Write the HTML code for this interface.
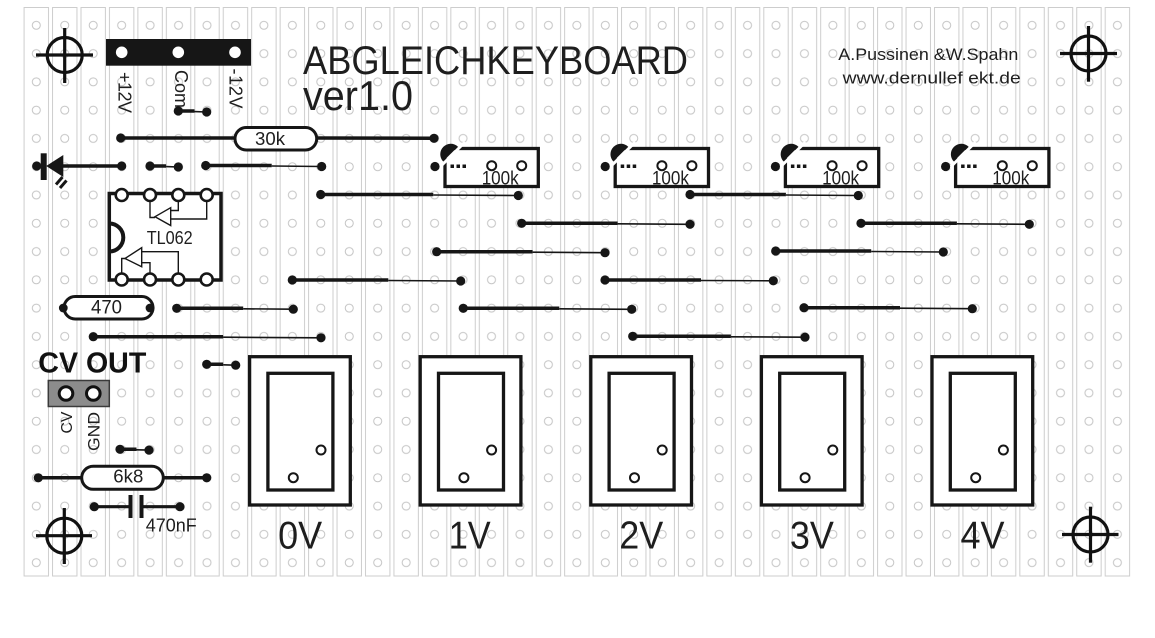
<!DOCTYPE html>
<html><head><meta charset="utf-8"><style>
html,body{margin:0;padding:0;background:#fff;}
svg{display:block;}
text{font-family:"Liberation Sans",sans-serif;fill:#1e1e1e;}
</style></head><body>
<svg width="1155" height="638" viewBox="0 0 1155 638" xmlns="http://www.w3.org/2000/svg">
<defs>
<pattern id="strip" x="22.075" y="0" width="28.45" height="638" patternUnits="userSpaceOnUse">
<rect x="2.025" y="7.5" width="24.4" height="568.5" fill="none" stroke="#cdcdcd" stroke-width="1"/>
</pattern>
<pattern id="hole" x="22.075" y="11.16" width="28.45" height="28.28" patternUnits="userSpaceOnUse">
<circle cx="14.225" cy="14.14" r="4" fill="none" stroke="#c4c4c4" stroke-width="1"/>
</pattern>
</defs>
<rect x="0" y="0" width="1155" height="638" fill="#fff"/>
<rect x="22.075" y="0" width="1109.55" height="600" fill="url(#strip)"/>
<rect x="22.075" y="11.16" width="1109.55" height="565.6" fill="url(#hole)"/>

<!-- crosshairs -->
<g fill="none" stroke="#111" stroke-width="3.2">
<circle cx="64.7" cy="55" r="17.5"/><line x1="36" y1="55" x2="93" y2="55"/><line x1="64.7" y1="28" x2="64.7" y2="83"/>
<circle cx="1088.5" cy="53.5" r="17.5"/><line x1="1060" y1="53.5" x2="1117" y2="53.5"/><line x1="1088.5" y1="26" x2="1088.5" y2="81.7"/>
<circle cx="64.3" cy="535.7" r="17.5"/><line x1="36" y1="535.7" x2="92" y2="535.7"/><line x1="64.3" y1="508" x2="64.3" y2="564"/>
<circle cx="1090.5" cy="534.5" r="17.5"/><line x1="1062" y1="534.5" x2="1118.5" y2="534.5"/><line x1="1090.5" y1="506.7" x2="1090.5" y2="562.7"/>
</g>

<!-- power header -->
<rect x="106" y="39" width="145" height="26.7" fill="#161616"/>
<circle cx="121.7" cy="52.3" r="5.8" fill="#fff"/>
<circle cx="178.3" cy="52.3" r="5.8" fill="#fff"/>
<circle cx="235" cy="52.3" r="5.8" fill="#fff"/>
<text transform="translate(118.5,72) rotate(90)" font-size="18" textLength="41">+12V</text>
<text transform="translate(175,70) rotate(90)" font-size="18" textLength="38">Com</text>
<text transform="translate(229.5,68.5) rotate(90)" font-size="18" textLength="40">-12V</text>

<!-- titles -->
<text x="303" y="74" font-size="40" textLength="385" lengthAdjust="spacingAndGlyphs">ABGLEICHKEYBOARD</text>
<text x="303" y="110" font-size="42" textLength="110" lengthAdjust="spacingAndGlyphs">ver1.0</text>
<text x="838.3" y="60" font-size="16.5" textLength="180" lengthAdjust="spacingAndGlyphs">A.Pussinen &amp;W.Spahn</text>
<text x="842.7" y="83.3" font-size="16.5" textLength="178" lengthAdjust="spacingAndGlyphs">www.dernullef ekt.de</text>

<!-- wires: thick part then thin part -->
<g stroke="#161616" stroke-linecap="butt">
<line x1="178.3" y1="111" x2="194.5" y2="111" stroke-width="3.5"/><line x1="194.5" y1="111.6" x2="206.7" y2="112" stroke-width="1.6"/>
<line x1="120.7" y1="138" x2="236" y2="138" stroke-width="3.5"/>
<line x1="316" y1="138" x2="434" y2="138.3" stroke-width="3.5"/>
<line x1="63" y1="166" x2="121.7" y2="166" stroke-width="3.5"/>
<line x1="150" y1="166" x2="166.1" y2="166" stroke-width="3.5"/><line x1="166.1" y1="166.6" x2="178.3" y2="167" stroke-width="1.6"/>
<line x1="205.7" y1="165.5" x2="271.7" y2="165.5" stroke-width="3.5"/><line x1="271.7" y1="166" x2="321.7" y2="166.5" stroke-width="1.6"/>
<line x1="320.7" y1="194.5" x2="433.3" y2="194.5" stroke-width="3.5"/><line x1="433.3" y1="195" x2="518.3" y2="195.5" stroke-width="1.6"/>
<line x1="690" y1="194.5" x2="785.9" y2="194.5" stroke-width="3.5"/><line x1="785.9" y1="195" x2="858.3" y2="195.5" stroke-width="1.6"/>
<line x1="521.7" y1="223.3" x2="617.6" y2="223.3" stroke-width="3.5"/><line x1="617.6" y1="223.8" x2="690" y2="224.3" stroke-width="1.6"/>
<line x1="861" y1="223.3" x2="956.9" y2="223.3" stroke-width="3.5"/><line x1="956.9" y1="223.8" x2="1029.3" y2="224.3" stroke-width="1.6"/>
<line x1="436.7" y1="251.7" x2="532.6" y2="251.7" stroke-width="3.5"/><line x1="532.6" y1="252.2" x2="605" y2="252.7" stroke-width="1.6"/>
<line x1="775.7" y1="251" x2="871.2" y2="251" stroke-width="3.5"/><line x1="871.2" y1="251.5" x2="943.3" y2="252" stroke-width="1.6"/>
<line x1="292.3" y1="280" x2="388.3" y2="280" stroke-width="3.5"/><line x1="388.3" y1="280.5" x2="460.7" y2="281" stroke-width="1.6"/>
<line x1="605" y1="280" x2="701" y2="280" stroke-width="3.5"/><line x1="701" y1="280.5" x2="773.3" y2="280.8" stroke-width="1.6"/>
<line x1="176.7" y1="308.3" x2="243.2" y2="308.3" stroke-width="3.5"/><line x1="243.2" y1="308.8" x2="293.3" y2="309.2" stroke-width="1.6"/>
<line x1="463.3" y1="308.3" x2="559.3" y2="308.3" stroke-width="3.5"/><line x1="559.3" y1="308.8" x2="631.7" y2="309.3" stroke-width="1.6"/>
<line x1="804" y1="307.7" x2="900" y2="307.7" stroke-width="3.5"/><line x1="900" y1="308.2" x2="972.3" y2="308.7" stroke-width="1.6"/>
<line x1="93.3" y1="336.7" x2="223.1" y2="336.7" stroke-width="3.5"/><line x1="223.1" y1="337.2" x2="321" y2="337.8" stroke-width="1.6"/>
<line x1="632.7" y1="336.3" x2="730.9" y2="336.3" stroke-width="3.5"/><line x1="730.9" y1="336.8" x2="805" y2="337.2" stroke-width="1.6"/>
<line x1="206.7" y1="364.3" x2="223.2" y2="364.3" stroke-width="3.5"/><line x1="223.2" y1="364.8" x2="235.7" y2="365.2" stroke-width="1.6"/>
<line x1="120" y1="449.3" x2="136.5" y2="449.3" stroke-width="3.5"/><line x1="136.5" y1="449.8" x2="149" y2="450.1" stroke-width="1.6"/>
<line x1="38.3" y1="477.8" x2="83" y2="477.8" stroke-width="3.5"/>
<line x1="162" y1="477.8" x2="206.7" y2="477.8" stroke-width="3.5"/>
<line x1="94.3" y1="506.7" x2="130" y2="506.7" stroke-width="3.2"/>
<line x1="142" y1="506.7" x2="180" y2="506.7" stroke-width="3.2"/>
<line x1="130.5" y1="495" x2="130.5" y2="518" stroke-width="4"/>
<line x1="141.5" y1="495" x2="141.5" y2="518" stroke-width="4"/>
</g>

<!-- wire dots -->
<g fill="#161616">
<circle cx="178.3" cy="111" r="4.6"/><circle cx="206.7" cy="112" r="4.6"/>
<circle cx="120.7" cy="138" r="4.6"/><circle cx="434" cy="138.3" r="4.6"/>
<circle cx="121.7" cy="166" r="4.6"/>
<circle cx="150" cy="166" r="4.6"/><circle cx="178.3" cy="167" r="4.6"/>
<circle cx="205.7" cy="165.5" r="4.6"/><circle cx="321.7" cy="166.5" r="4.6"/>
<circle cx="320.7" cy="194.5" r="4.6"/><circle cx="518.3" cy="195.5" r="4.6"/>
<circle cx="690" cy="194.5" r="4.6"/><circle cx="858.3" cy="195.5" r="4.6"/>
<circle cx="521.7" cy="223.3" r="4.6"/><circle cx="690" cy="224.3" r="4.6"/>
<circle cx="861" cy="223.3" r="4.6"/><circle cx="1029.3" cy="224.3" r="4.6"/>
<circle cx="436.7" cy="251.7" r="4.6"/><circle cx="605" cy="252.7" r="4.6"/>
<circle cx="775.7" cy="251" r="4.6"/><circle cx="943.3" cy="252" r="4.6"/>
<circle cx="292.3" cy="280" r="4.6"/><circle cx="460.7" cy="281" r="4.6"/>
<circle cx="605" cy="280" r="4.6"/><circle cx="773.3" cy="280.8" r="4.6"/>
<circle cx="176.7" cy="308.3" r="4.6"/><circle cx="293.3" cy="309.2" r="4.6"/>
<circle cx="463.3" cy="308.3" r="4.6"/><circle cx="631.7" cy="309.3" r="4.6"/>
<circle cx="804" cy="307.7" r="4.6"/><circle cx="972.3" cy="308.7" r="4.6"/>
<circle cx="93.3" cy="336.7" r="4.6"/><circle cx="321" cy="337.8" r="4.6"/>
<circle cx="632.7" cy="336.3" r="4.6"/><circle cx="805" cy="337.2" r="4.6"/>
<circle cx="206.7" cy="364.3" r="4.6"/><circle cx="235.7" cy="365.2" r="4.6"/>
<circle cx="120" cy="449.3" r="4.6"/><circle cx="149" cy="450.1" r="4.6"/>
<circle cx="38.3" cy="477.8" r="4.6"/><circle cx="206.7" cy="477.8" r="4.6"/>
<circle cx="94.3" cy="506.7" r="4.6"/><circle cx="180" cy="506.7" r="4.6"/>
</g>

<!-- resistors -->
<rect x="235" y="127.5" width="81.7" height="22.5" rx="11.2" fill="#fff" stroke="#161616" stroke-width="3"/>
<text x="255" y="145" font-size="18" textLength="30" lengthAdjust="spacingAndGlyphs">30k</text>
<rect x="64" y="296.5" width="89" height="22.5" rx="11.2" fill="#fff" stroke="#161616" stroke-width="3"/>
<circle cx="63.3" cy="308" r="4.4" fill="#161616"/><circle cx="150" cy="308" r="4.4" fill="#161616"/>
<text x="91" y="313.5" font-size="19" textLength="31" lengthAdjust="spacingAndGlyphs">470</text>
<rect x="81.7" y="466.3" width="81.6" height="23" rx="11.5" fill="#fff" stroke="#161616" stroke-width="3"/>
<text x="113.3" y="482.3" font-size="18" textLength="30" lengthAdjust="spacingAndGlyphs">6k8</text>
<text x="145.7" y="531.7" font-size="18" textLength="51" lengthAdjust="spacingAndGlyphs">470nF</text>

<!-- LED -->
<g fill="#161616">
<circle cx="36.7" cy="166" r="4.6"/>
<rect x="40.7" y="153.3" width="6" height="26.7"/>
<polygon points="46.2,166 63.3,155 63.3,177"/>
</g>
<g stroke="#161616" stroke-width="3">
<line x1="62.5" y1="177" x2="56" y2="184.5"/>
<line x1="66.5" y1="180.5" x2="60" y2="188"/>
</g>

<!-- IC -->
<rect x="109.3" y="193.5" width="111.7" height="86.5" fill="#fff" stroke="#161616" stroke-width="3.5"/>
<path d="M109.3,223.5 A14 14 0 0 1 109.3,251.5" fill="none" stroke="#161616" stroke-width="4"/>
<g fill="none" stroke="#161616" stroke-width="1.4">
<polygon points="155,216.7 170.7,207.7 170.7,225.5"/>
<polyline points="150,200 150,217.5 155,217.5"/>
<polyline points="178.3,200 178.3,210.5 170.7,210.5"/>
<polyline points="206.7,200 206.7,219 170.7,219"/>
<polygon points="125,258.5 141.7,247.7 141.7,266.7"/>
<polyline points="121.7,273 121.7,258.5 125,258.5"/>
<polyline points="150,273 150,262.7 141.7,262.7"/>
<polyline points="178.3,273 178.3,251.7 141.7,251.7"/>
</g>
<g fill="#fff" stroke="#161616" stroke-width="2.6">
<circle cx="121.7" cy="195" r="6"/><circle cx="150" cy="195" r="6"/><circle cx="178.3" cy="195" r="6"/><circle cx="206.7" cy="195" r="6"/>
<circle cx="121.7" cy="279.5" r="6"/><circle cx="150" cy="279.5" r="6"/><circle cx="178.3" cy="279.5" r="6"/><circle cx="206.7" cy="279.5" r="6"/>
</g>
<text x="146.7" y="244" font-size="18" textLength="46" lengthAdjust="spacingAndGlyphs">TL062</text>

<!-- CV OUT -->
<text x="38.3" y="372.7" font-size="29" font-weight="bold" textLength="108" lengthAdjust="spacingAndGlyphs" style="fill:#111">CV OUT</text>
<rect x="48.3" y="380.5" width="61" height="26" fill="#8c8c8c" stroke="#3a3a3a" stroke-width="1.5"/>
<circle cx="66" cy="393.5" r="6.8" fill="#fff" stroke="#111" stroke-width="3"/>
<circle cx="93.3" cy="393.5" r="6.8" fill="#fff" stroke="#111" stroke-width="3"/>
<text transform="translate(72,433.5) rotate(-90)" font-size="16" textLength="22" lengthAdjust="spacingAndGlyphs">CV</text>
<text transform="translate(99.5,451) rotate(-90)" font-size="17" textLength="39" lengthAdjust="spacingAndGlyphs">GND</text>

<!-- trimmers -->
<g transform="translate(445,0)">
<rect x="0" y="148.5" width="93.3" height="38" fill="#fff" stroke="#161616" stroke-width="3.3"/>
<path d="M-1.92,161.42 A10.5 10.5 0 0 1 12.92,146.58 Z" fill="#161616"/>
<line x1="-6" y1="168" x2="20" y2="142" stroke="#fff" stroke-width="3"/>
<circle cx="-10" cy="166.5" r="4.6" fill="#161616"/>
<rect x="5.5" y="164.5" width="3.5" height="3.5" fill="#161616"/>
<rect x="11.5" y="164.5" width="3.5" height="3.5" fill="#161616"/>
<rect x="17.5" y="164.5" width="3.5" height="3.5" fill="#161616"/>
<circle cx="46.7" cy="165.7" r="4.5" fill="#fff" stroke="#161616" stroke-width="2"/>
<circle cx="76.7" cy="165.7" r="4.5" fill="#fff" stroke="#161616" stroke-width="2"/>
<text x="36.7" y="184.5" font-size="19" textLength="37" lengthAdjust="spacingAndGlyphs">100k</text>
</g>
<g transform="translate(615.2,0)">
<rect x="0" y="148.5" width="93.3" height="38" fill="#fff" stroke="#161616" stroke-width="3.3"/>
<path d="M-1.92,161.42 A10.5 10.5 0 0 1 12.92,146.58 Z" fill="#161616"/>
<line x1="-6" y1="168" x2="20" y2="142" stroke="#fff" stroke-width="3"/>
<circle cx="-10" cy="166.5" r="4.6" fill="#161616"/>
<rect x="5.5" y="164.5" width="3.5" height="3.5" fill="#161616"/>
<rect x="11.5" y="164.5" width="3.5" height="3.5" fill="#161616"/>
<rect x="17.5" y="164.5" width="3.5" height="3.5" fill="#161616"/>
<circle cx="46.7" cy="165.7" r="4.5" fill="#fff" stroke="#161616" stroke-width="2"/>
<circle cx="76.7" cy="165.7" r="4.5" fill="#fff" stroke="#161616" stroke-width="2"/>
<text x="36.7" y="184.5" font-size="19" textLength="37" lengthAdjust="spacingAndGlyphs">100k</text>
</g>
<g transform="translate(785.4,0)">
<rect x="0" y="148.5" width="93.3" height="38" fill="#fff" stroke="#161616" stroke-width="3.3"/>
<path d="M-1.92,161.42 A10.5 10.5 0 0 1 12.92,146.58 Z" fill="#161616"/>
<line x1="-6" y1="168" x2="20" y2="142" stroke="#fff" stroke-width="3"/>
<circle cx="-10" cy="166.5" r="4.6" fill="#161616"/>
<rect x="5.5" y="164.5" width="3.5" height="3.5" fill="#161616"/>
<rect x="11.5" y="164.5" width="3.5" height="3.5" fill="#161616"/>
<rect x="17.5" y="164.5" width="3.5" height="3.5" fill="#161616"/>
<circle cx="46.7" cy="165.7" r="4.5" fill="#fff" stroke="#161616" stroke-width="2"/>
<circle cx="76.7" cy="165.7" r="4.5" fill="#fff" stroke="#161616" stroke-width="2"/>
<text x="36.7" y="184.5" font-size="19" textLength="37" lengthAdjust="spacingAndGlyphs">100k</text>
</g>
<g transform="translate(955.6,0)">
<rect x="0" y="148.5" width="93.3" height="38" fill="#fff" stroke="#161616" stroke-width="3.3"/>
<path d="M-1.92,161.42 A10.5 10.5 0 0 1 12.92,146.58 Z" fill="#161616"/>
<line x1="-6" y1="168" x2="20" y2="142" stroke="#fff" stroke-width="3"/>
<circle cx="-10" cy="166.5" r="4.6" fill="#161616"/>
<rect x="5.5" y="164.5" width="3.5" height="3.5" fill="#161616"/>
<rect x="11.5" y="164.5" width="3.5" height="3.5" fill="#161616"/>
<rect x="17.5" y="164.5" width="3.5" height="3.5" fill="#161616"/>
<circle cx="46.7" cy="165.7" r="4.5" fill="#fff" stroke="#161616" stroke-width="2"/>
<circle cx="76.7" cy="165.7" r="4.5" fill="#fff" stroke="#161616" stroke-width="2"/>
<text x="36.7" y="184.5" font-size="19" textLength="37" lengthAdjust="spacingAndGlyphs">100k</text>
</g>

<!-- switches -->
<g transform="translate(249.6,0)">
<rect x="0" y="356.7" width="100.7" height="148.3" fill="#fff" stroke="#161616" stroke-width="3.3"/>
<rect x="18.3" y="373.3" width="65" height="116.7" fill="#fff" stroke="#161616" stroke-width="3.3"/>
<circle cx="71.4" cy="450" r="4.5" fill="#fff" stroke="#161616" stroke-width="2"/>
<circle cx="43.7" cy="477.7" r="4.5" fill="#fff" stroke="#161616" stroke-width="2"/>
<text x="28.5" y="548.3" font-size="39" textLength="44" lengthAdjust="spacingAndGlyphs">0V</text>
</g>
<g transform="translate(420.2,0)">
<rect x="0" y="356.7" width="100.7" height="148.3" fill="#fff" stroke="#161616" stroke-width="3.3"/>
<rect x="18.3" y="373.3" width="65" height="116.7" fill="#fff" stroke="#161616" stroke-width="3.3"/>
<circle cx="71.4" cy="450" r="4.5" fill="#fff" stroke="#161616" stroke-width="2"/>
<circle cx="43.7" cy="477.7" r="4.5" fill="#fff" stroke="#161616" stroke-width="2"/>
<text x="28.5" y="548.3" font-size="39" textLength="42" lengthAdjust="spacingAndGlyphs">1V</text>
</g>
<g transform="translate(590.8,0)">
<rect x="0" y="356.7" width="100.7" height="148.3" fill="#fff" stroke="#161616" stroke-width="3.3"/>
<rect x="18.3" y="373.3" width="65" height="116.7" fill="#fff" stroke="#161616" stroke-width="3.3"/>
<circle cx="71.4" cy="450" r="4.5" fill="#fff" stroke="#161616" stroke-width="2"/>
<circle cx="43.7" cy="477.7" r="4.5" fill="#fff" stroke="#161616" stroke-width="2"/>
<text x="28.5" y="548.3" font-size="39" textLength="44" lengthAdjust="spacingAndGlyphs">2V</text>
</g>
<g transform="translate(761.4,0)">
<rect x="0" y="356.7" width="100.7" height="148.3" fill="#fff" stroke="#161616" stroke-width="3.3"/>
<rect x="18.3" y="373.3" width="65" height="116.7" fill="#fff" stroke="#161616" stroke-width="3.3"/>
<circle cx="71.4" cy="450" r="4.5" fill="#fff" stroke="#161616" stroke-width="2"/>
<circle cx="43.7" cy="477.7" r="4.5" fill="#fff" stroke="#161616" stroke-width="2"/>
<text x="28.5" y="548.3" font-size="39" textLength="44" lengthAdjust="spacingAndGlyphs">3V</text>
</g>
<g transform="translate(932,0)">
<rect x="0" y="356.7" width="100.7" height="148.3" fill="#fff" stroke="#161616" stroke-width="3.3"/>
<rect x="18.3" y="373.3" width="65" height="116.7" fill="#fff" stroke="#161616" stroke-width="3.3"/>
<circle cx="71.4" cy="450" r="4.5" fill="#fff" stroke="#161616" stroke-width="2"/>
<circle cx="43.7" cy="477.7" r="4.5" fill="#fff" stroke="#161616" stroke-width="2"/>
<text x="28.5" y="548.3" font-size="39" textLength="44" lengthAdjust="spacingAndGlyphs">4V</text>
</g>
</svg>
</body></html>
